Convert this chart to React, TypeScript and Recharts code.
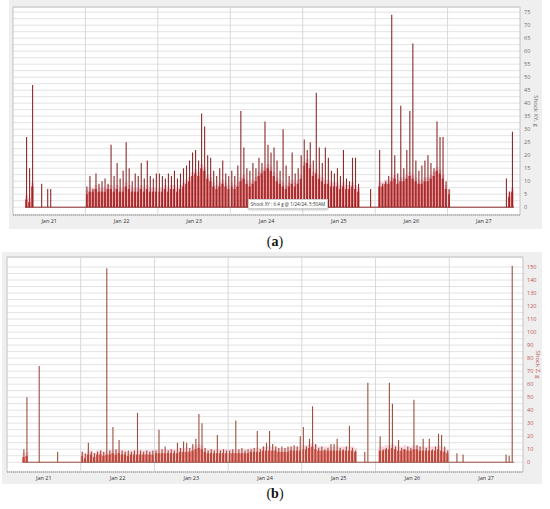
import React from "react";
import {
  ComposedChart, Bar, XAxis, YAxis, CartesianGrid, ReferenceLine, ReferenceArea,
} from "recharts";

const DAYS = ["Jan 21", "Jan 22", "Jan 23", "Jan 24", "Jan 25", "Jan 26", "Jan 27"];

// hourly max of Shock XY (g), one line per day
const XY_PEAK = [
  0, 0, 0, 0, 27, 15, 47, 0, 0, 9, 0, 7, 7, 0, 0, 0, 0, 0, 0, 0, 0, 0, 0, 0,
  8, 12, 7, 13, 9, 10, 11, 9, 24, 12, 17, 11, 14, 25, 15, 10, 13, 12, 17, 11, 18, 12, 11, 13,
  13, 12, 11, 13, 12, 14, 11, 13, 15, 16, 18, 21, 22, 18, 36, 31, 20, 19, 14, 12, 15, 18, 13, 12,
  14, 12, 16, 37, 23, 15, 14, 17, 15, 19, 17, 33, 24, 21, 23, 18, 14, 30, 16, 12, 21, 13, 15, 20,
  26, 22, 25, 18, 44, 23, 17, 23, 19, 14, 13, 15, 12, 22, 11, 10, 19, 19, 9, 0, 0, 0, 7, 0,
  0, 22, 9, 10, 12, 74, 20, 13, 39, 15, 22, 37, 63, 18, 14, 16, 18, 20, 17, 15, 33, 27, 27, 10,
  7, 0, 0, 0, 0, 0, 0, 0, 0, 0, 0, 0, 0, 0, 0, 0, 0, 0, 0, 11, 6, 29, 0, 0,
];

// typical (dense) Shock XY level per hour
const XY_BAND = [
  0, 0, 0, 0, 3, 2, 8, 0, 0, 0, 0, 0, 0, 0, 0, 0, 0, 0, 0, 0, 0, 0, 0, 0,
  5, 6, 6, 7, 6, 6, 6, 7, 7, 6, 7, 6, 6, 8, 7, 6, 6, 6, 7, 6, 7, 6, 6, 6,
  6, 6, 7, 6, 7, 7, 6, 7, 8, 9, 10, 12, 13, 12, 15, 14, 11, 10, 8, 7, 8, 9, 8, 7,
  8, 7, 8, 10, 11, 9, 8, 9, 10, 12, 13, 14, 15, 14, 12, 10, 9, 8, 7, 8, 9, 8, 9, 11,
  16, 17, 15, 12, 13, 11, 10, 9, 9, 8, 8, 8, 7, 8, 7, 7, 8, 7, 6, 0, 0, 0, 0, 0,
  0, 8, 8, 9, 9, 10, 11, 9, 10, 10, 11, 12, 11, 10, 9, 9, 10, 10, 11, 12, 14, 13, 11, 7,
  5, 0, 0, 0, 0, 0, 0, 0, 0, 0, 0, 0, 0, 0, 0, 0, 0, 0, 0, 0, 4, 6, 0, 0,
];

// hourly max of Shock Z (g)
const Z_PEAK = [
  0, 0, 0, 0, 0, 10, 50, 0, 0, 0, 74, 0, 0, 0, 0, 0, 8, 0, 0, 0, 0, 0, 0, 0,
  8, 7, 15, 8, 7, 8, 9, 8, 149, 9, 27, 10, 17, 9, 8, 9, 8, 9, 38, 9, 8, 9, 8, 9,
  9, 25, 10, 12, 9, 10, 9, 15, 11, 16, 15, 11, 14, 18, 37, 30, 11, 9, 10, 9, 21, 9, 10, 9,
  9, 10, 32, 10, 11, 9, 10, 10, 11, 24, 10, 12, 15, 24, 14, 12, 11, 12, 11, 12, 12, 13, 12, 20,
  27, 12, 18, 43, 14, 11, 12, 10, 11, 14, 14, 18, 11, 10, 12, 28, 11, 9, 0, 0, 8, 61, 0, 0,
  0, 20, 10, 11, 61, 45, 12, 17, 11, 10, 12, 11, 48, 13, 12, 18, 11, 18, 10, 12, 22, 21, 12, 9,
  0, 0, 7, 0, 6, 0, 0, 0, 0, 0, 0, 0, 0, 0, 0, 0, 0, 0, 6, 5, 151, 0, 0, 0,
];

const Z_BAND = [
  0, 0, 0, 0, 0, 4, 5, 0, 0, 0, 0, 0, 0, 0, 0, 0, 0, 0, 0, 0, 0, 0, 0, 0,
  5, 3, 6, 6, 4, 6, 6, 5, 6, 6, 7, 6, 7, 6, 6, 5, 6, 6, 6, 6, 6, 6, 6, 6,
  7, 7, 7, 7, 7, 7, 7, 7, 8, 8, 8, 8, 9, 10, 11, 10, 8, 7, 7, 7, 7, 7, 7, 7,
  7, 7, 7, 7, 7, 7, 7, 8, 8, 8, 8, 9, 9, 9, 9, 9, 8, 8, 8, 8, 9, 9, 9, 9,
  10, 10, 11, 12, 10, 9, 9, 9, 9, 9, 9, 9, 9, 9, 9, 9, 9, 8, 0, 0, 0, 0, 0, 0,
  0, 9, 9, 10, 10, 11, 10, 9, 9, 10, 9, 9, 10, 10, 9, 9, 9, 9, 9, 9, 10, 9, 8, 7,
  0, 0, 0, 0, 0, 0, 0, 0, 0, 0, 0, 0, 0, 0, 0, 0, 0, 0, 0, 0, 0, 0, 0, 0,
];

const XY_TICKS = [0, 5, 10, 15, 20, 25, 30, 35, 40, 45, 50, 55, 60, 65, 70, 75];
const Z_TICKS = [0, 10, 20, 30, 40, 50, 60, 70, 80, 90, 100, 110, 120, 130, 140, 150];

// first / last hour with a reading (flat zero line between bursts)
const XY_SPAN = [4, 166];
const Z_SPAN = [5, 165];

const FONT = "'Open Sans', 'DejaVu Sans', sans-serif";

function toRows(peak: number[], band: number[]) {
  return peak.map((p, i) => ({ t: i + 0.5, peak: p, band: Math.min(band[i], p) }));
}

function bandShape(fill: string, halo: string) {
  return (props: any) => {
    const { x, y, width, height } = props;
    if (!height || height <= 0) return <g />;
    return (
      <g>
        <rect x={x} y={y - 4} width={width} height={4} fill={halo} />
        <rect x={x} y={y} width={width - 0.6} height={height} fill={fill} />
      </g>
    );
  };
}

function peakShape(stroke: string) {
  return (props: any) => {
    const { x, y, width, height } = props;
    if (!height || height <= 0) return <g />;
    const cx = x + width / 2;
    return <line x1={cx} x2={cx} y1={y} y2={y + height} stroke={stroke} strokeWidth={1.1} />;
  };
}

function AxisTitle({ viewBox, text, color, inset }: any) {
  const cx = viewBox.x + viewBox.width - inset;
  const cy = viewBox.y + viewBox.height / 2;
  return (
    <text x={cx} y={cy} transform={`rotate(90 ${cx} ${cy})`} textAnchor="middle"
      dominantBaseline="central" fill={color} fontSize={6} fontFamily={FONT}>
      {text}
    </text>
  );
}

interface PanelProps {
  peak: number[];
  band: number[];
  span: number[];
  ticks: number[];
  domain: [number, number];
  width: number;
  height: number;
  margin: { top: number; left: number; right: number; bottom: number };
  yAxisWidth: number;
  xAxisHeight: number;
  title: string;
  titleInset: number;
  labelColor: string;
  spikeColor: string;
  bandColor: string;
  haloColor: string;
}

function ShockPanel(p: PanelProps) {
  const rows = toRows(p.peak, p.band);
  const step = p.ticks[1] - p.ticks[0];
  // grid every half label step, labels only on the full steps
  const gridTicks = p.ticks.flatMap((v, i) => (i < p.ticks.length - 1 ? [v, v + step / 2] : [v]));
  return (
    <ComposedChart width={p.width} height={p.height} data={rows} margin={p.margin}
      barGap={-3} style={{ fontFamily: FONT }}>
      <CartesianGrid vertical={false} stroke="#e3e3e3" fill="#ffffff" />
      {DAYS.slice(1).map((d, i) => (
        <ReferenceLine key={d} x={(i + 1) * 24} stroke="#d9d9d9" />
      ))}
      <XAxis dataKey="t" type="number" domain={[0, 168]} ticks={DAYS.map((_, i) => i * 24 + 12)}
        tickFormatter={(v: number) => DAYS[Math.round((v - 12) / 24)]}
        height={p.xAxisHeight} tickSize={0} tickMargin={4}
        axisLine={{ stroke: "#9a9a9a", strokeDasharray: "1 1" }}
        tick={{ fontSize: 5.5, fill: "#333" }} />
      <YAxis orientation="right" domain={p.domain} ticks={gridTicks} allowDataOverflow
        width={p.yAxisWidth} tickSize={0} tickMargin={4} axisLine={false} interval={0}
        tickFormatter={(v: number) => (v % step === 0 ? String(v) : "")}
        tick={{ fontSize: 5.5, fill: p.labelColor, textAnchor: "start" }}
        label={<AxisTitle text={p.title} color={p.labelColor} inset={p.titleInset} />} />
      <Bar dataKey="band" barSize={3} shape={bandShape(p.bandColor, p.haloColor)} isAnimationActive={false} />
      <Bar dataKey="peak" barSize={3} shape={peakShape(p.spikeColor)} isAnimationActive={false} />
      <ReferenceLine segment={[{ x: p.span[0], y: 0 }, { x: p.span[1], y: 0 }]} stroke={p.spikeColor} />
      <ReferenceArea x1={0} x2={168} y1={p.domain[0]} y2={p.domain[1]} fill="none"
        fillOpacity={0} stroke="#c2c2c2" />
    </ComposedChart>
  );
}

function Caption({ letter, top }: { letter: string; top: number }) {
  return (
    <div style={{ position: "absolute", left: 0, width: 550, top, textAlign: "center",
      fontFamily: "'Liberation Serif', 'Times New Roman', serif", fontSize: 14, color: "#111" }}>
      (<b>{letter}</b>)
    </div>
  );
}

export default function App() {
  return (
    <div style={{ position: "absolute", left: 0, top: 0, width: 550, height: 509, background: "#fff", overflow: "hidden" }}>
      <div style={{ position: "absolute", left: 9, top: 0, width: 533, height: 229, background: "#efefef" }} />
      <div style={{ position: "absolute", left: 0, top: 0 }}>
        <ShockPanel peak={XY_PEAK} band={XY_BAND} span={XY_SPAN} ticks={XY_TICKS} domain={[-3, 77]}
          width={550} height={230} margin={{ top: 7, left: 13, right: 8, bottom: 3 }}
          yAxisWidth={22} xAxisHeight={12} title="Shock XY, g" titleInset={6}
          labelColor="#6a6a6a" spikeColor="#8a2b2b" bandColor="#d2393c" haloColor="#f7c9d2" />
      </div>
      <div style={{ position: "absolute", left: 248, top: 199, width: 78, height: 8, background: "#fff",
        border: "1px solid #d0d0d0", boxShadow: "0 1px 2px rgba(0,0,0,0.25)", fontFamily: FONT,
        fontSize: 4.6, lineHeight: "8px", textAlign: "center", color: "#333", whiteSpace: "nowrap" }}>
        Shock XY : 6.4 g @ 1/24/24, 5:50AM
      </div>
      <Caption letter="a" top={234} />

      <div style={{ position: "absolute", left: 2, top: 252, width: 540, height: 232, background: "#efefef" }} />
      <div style={{ position: "absolute", left: 0, top: 250 }}>
        <ShockPanel peak={Z_PEAK} band={Z_BAND} span={Z_SPAN} ticks={Z_TICKS} domain={[-7.5, 157.7]}
          width={550} height={235} margin={{ top: 7, left: 7, right: 8, bottom: 2 }}
          yAxisWidth={19} xAxisHeight={11} title="Shock Z, g" titleInset={4}
          labelColor="#c0504d" spikeColor="#9a5140" bandColor="#e2403a" haloColor="#fbd2da" />
      </div>
      <Caption letter="b" top={486} />
    </div>
  );
}
